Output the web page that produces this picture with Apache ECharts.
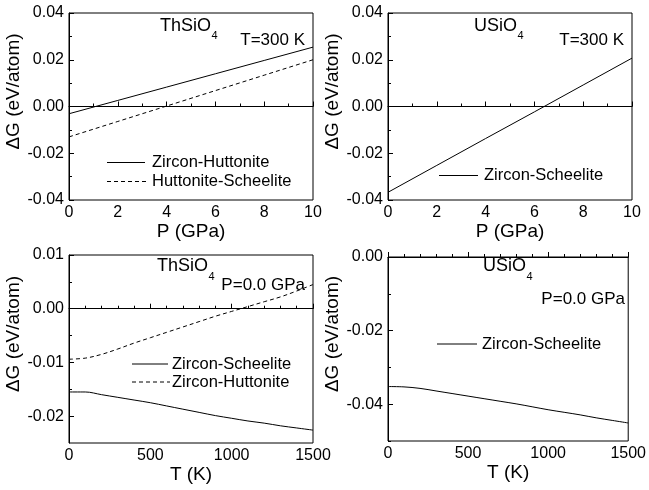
<!DOCTYPE html>
<html>
<head>
<meta charset="utf-8">
<script src="https://cdn.jsdelivr.net/npm/echarts@6/dist/echarts.min.js"></script>
<style>
  html, body { margin: 0; padding: 0; background: #fff; }
  #chart { width: 649px; height: 490px; }
</style>
</head>
<body>
<div id="chart"></div>
<script>
// ---- Pressure dependence at T = 300 K ----
const pressureGPa = [0, 2, 4, 6, 8, 10];
const thZirconHuttoniteVsP = [-0.0031, 0.0026, 0.0083, 0.0140, 0.0197, 0.0254];
const thHuttoniteScheeliteVsP = [-0.0130, -0.0064, 0.0002, 0.0068, 0.0134, 0.0200];
const uZirconScheeliteVsP = [-0.0367, -0.0252, -0.0137, -0.0023, 0.0092, 0.0207];

// ---- Temperature dependence at P = 0.0 GPa ----
const temperatureK = [0, 100, 200, 300, 400, 500, 600, 700, 800, 900, 1000, 1100, 1200, 1300, 1400, 1500];
const thZirconScheeliteVsT = [-0.0155, -0.0155, -0.0160, -0.0165, -0.0170, -0.0175, -0.0181, -0.0187,
                              -0.0193, -0.0199, -0.0204, -0.0209, -0.0213, -0.0218, -0.0222, -0.0226];
const thZirconHuttoniteVsT = [-0.0094, -0.0092, -0.0085, -0.0075, -0.0064, -0.0054, -0.0044, -0.0034,
                              -0.0024, -0.0014, -0.0005, 0.0004, 0.0013, 0.0022, 0.0033, 0.0045];
const uZirconScheeliteVsT = [-0.0352, -0.0353, -0.0357, -0.0364, -0.0371, -0.0378, -0.0385, -0.0392,
                             -0.0399, -0.0407, -0.0415, -0.0422, -0.0429, -0.0437, -0.0444, -0.0451];

// ---- Tick values ----
const pressureTicks = [0, 2, 4, 6, 8, 10];
const pressureMinorTicks = [1, 3, 5, 7, 9];
const temperatureTicks = [0, 500, 1000, 1500];
const temperatureMinorTicks = [100, 200, 300, 400, 600, 700, 800, 900, 1100, 1200, 1300, 1400];
const dgPressureTicks = [-0.04, -0.02, 0, 0.02, 0.04];
const dgPressureMinorTicks = [-0.03, -0.01, 0.01, 0.03];
const dgThTempTicks = [-0.02, -0.01, 0, 0.01];
const dgThTempMinorTicks = [-0.015, -0.005, 0.005];
const dgUTempTicks = [-0.04, -0.02, 0];
const dgUTempMinorTicks = [-0.05, -0.03, -0.01];

const FONT = "'Liberation Sans', Arial, Helvetica, sans-serif";
const INK = '#000';
const DASH = [4, 3];

const zip = (xs, ys) => xs.map((x, i) => [x, ys[i]]);

const panels = [
  {
    grid: { left: 69, top: 13, width: 244, height: 187 },
    x: { min: 0, max: 10, ticks: pressureTicks, minor: pressureMinorTicks, name: 'P (GPa)' },
    y: { min: -0.04, max: 0.04, ticks: dgPressureTicks, minor: dgPressureMinorTicks },
    zeroLine: true,
    curves: [
      { name: 'Zircon-Huttonite', x: pressureGPa, y: thZirconHuttoniteVsP, dashed: false },
      { name: 'Huttonite-Scheelite', x: pressureGPa, y: thHuttoniteScheeliteVsP, dashed: true }
    ]
  },
  {
    grid: { left: 388, top: 13, width: 244, height: 187 },
    x: { min: 0, max: 10, ticks: pressureTicks, minor: pressureMinorTicks, name: 'P (GPa)' },
    y: { min: -0.04, max: 0.04, ticks: dgPressureTicks, minor: dgPressureMinorTicks },
    zeroLine: true,
    curves: [
      { name: 'Zircon-Scheelite', x: pressureGPa, y: uZirconScheeliteVsP, dashed: false }
    ]
  },
  {
    grid: { left: 69, top: 255, width: 244, height: 188 },
    x: { min: 0, max: 1500, ticks: temperatureTicks, minor: temperatureMinorTicks, name: 'T (K)' },
    y: { min: -0.025, max: 0.01, ticks: dgThTempTicks, minor: dgThTempMinorTicks },
    zeroLine: true,
    curves: [
      { name: 'Zircon-Scheelite', x: temperatureK, y: thZirconScheeliteVsT, dashed: false },
      { name: 'Zircon-Huttonite', x: temperatureK, y: thZirconHuttoniteVsT, dashed: true }
    ]
  },
  {
    grid: { left: 388, top: 257, width: 244, height: 184 },
    x: { min: 0, max: 1500, ticks: temperatureTicks, minor: temperatureMinorTicks, name: 'T (K)' },
    y: { min: -0.05, max: 0, ticks: dgUTempTicks, minor: dgUTempMinorTicks },
    zeroLine: false,
    curves: [
      { name: 'Zircon-Scheelite', x: temperatureK, y: uZirconScheeliteVsT, dashed: false }
    ]
  }
];

const grids = [], xAxes = [], yAxes = [], series = [];

panels.forEach((p, gi) => {
  grids.push(Object.assign({
    show: true, borderColor: INK, borderWidth: 1, backgroundColor: 'transparent', containLabel: false
  }, p.grid));

  // main x axis: labelled major ticks
  xAxes.push({
    type: 'value', gridIndex: gi, position: 'bottom', min: p.x.min, max: p.x.max,
    name: p.x.name, nameLocation: 'middle', nameGap: 21,
    nameTextStyle: { fontFamily: FONT, fontSize: 19, color: INK },
    axisLine: { show: true, lineStyle: { color: INK, width: 1 } },
    axisTick: { show: true, inside: true, length: 5, customValues: p.x.ticks, lineStyle: { color: INK } },
    axisLabel: { show: true, customValues: p.x.ticks, margin: 5, fontFamily: FONT, fontSize: 16, color: INK,
                 formatter: v => String(v) },
    splitLine: { show: false }
  });
  // minor x ticks
  xAxes.push({
    type: 'value', gridIndex: gi, position: 'bottom', min: p.x.min, max: p.x.max,
    axisLine: { show: false },
    axisTick: { show: true, inside: true, length: 3, customValues: p.x.minor, lineStyle: { color: INK } },
    axisLabel: { show: false },
    splitLine: { show: false }
  });

  // main y axis
  yAxes.push({
    type: 'value', gridIndex: gi, position: 'left', min: p.y.min, max: p.y.max,
    name: '\u0394G (eV/atom)', nameLocation: 'middle', nameGap: 44, nameRotate: 90,
    nameTextStyle: { fontFamily: FONT, fontSize: 19, color: INK, padding: [0, 0, 0, 30] },
    axisLine: { show: true, lineStyle: { color: INK, width: 1 } },
    axisTick: { show: true, inside: true, length: 5, customValues: p.y.ticks, lineStyle: { color: INK } },
    axisLabel: { show: true, customValues: p.y.ticks, margin: 5, fontFamily: FONT, fontSize: 16, color: INK,
                 formatter: v => (Math.abs(v) < 1e-12 ? 0 : v).toFixed(2) },
    splitLine: { show: false }
  });
  // minor y ticks
  yAxes.push({
    type: 'value', gridIndex: gi, position: 'left', min: p.y.min, max: p.y.max,
    axisLine: { show: false },
    axisTick: { show: true, inside: true, length: 3, customValues: p.y.minor, lineStyle: { color: INK } },
    axisLabel: { show: false },
    splitLine: { show: false }
  });

  p.curves.forEach((c, ci) => {
    const s = {
      type: 'line', name: c.name,
      xAxisIndex: gi * 2, yAxisIndex: gi * 2,
      data: zip(c.x, c.y),
      symbol: 'none', smooth: c.x.length > 6 ? 0.35 : false,
      color: INK,
      lineStyle: { color: INK, width: 1, type: c.dashed ? DASH : 'solid' },
      silent: true, z: 3
    };
    if (ci === 0 && p.zeroLine) {
      s.markLine = {
        silent: true, symbol: 'none', label: { show: false },
        lineStyle: { color: INK, width: 1, type: 'solid' },
        data: [{ yAxis: 0 }]
      };
    }
    series.push(s);
  });
});

// text width helper so chemical subscripts sit right after their formula
const measureCtx = document.createElement('canvas').getContext('2d');
const textWidth = (text, size) => { measureCtx.font = `${size}px ${FONT}`; return measureCtx.measureText(text).width; };

const txt = (x, y, text, size, align) => ({
  type: 'text', silent: true, z: 10,
  style: { x, y, text, fill: INK, font: `${size}px ${FONT}`, textAlign: align || 'left', textVerticalAlign: 'middle' }
});
// formula with a trailing subscript, e.g. ThSiO + 4
const formula = (x, y, base, sub) => [
  txt(x, y, base, 18),
  txt(x + textWidth(base, 18) + 0.5, y + 10, sub, 11)
];
const keyLine = (x1, x2, y, dashed) => ({
  type: 'line', silent: true, z: 10,
  shape: { x1, y1: y, x2, y2: y },
  style: { stroke: INK, lineWidth: 1, lineDash: dashed ? DASH : null }
});

const KEY = 16.5;
const graphics = [
  // top-left: ThSiO4, T = 300 K
  ...formula(160, 26, 'ThSiO', '4'),
  txt(305, 40, 'T=300 K', 17, 'right'),
  keyLine(107, 145, 162.5, false), txt(152, 162.5, 'Zircon-Huttonite', KEY),
  keyLine(107, 147, 181.5, true), txt(152, 181.5, 'Huttonite-Scheelite', KEY),

  // top-right: USiO4, T = 300 K
  ...formula(474, 26, 'USiO', '4'),
  txt(624, 40, 'T=300 K', 17, 'right'),
  keyLine(439, 478, 175.5, false), txt(484, 175.5, 'Zircon-Scheelite', KEY),

  // bottom-left: ThSiO4, P = 0.0 GPa
  ...formula(157, 266.5, 'ThSiO', '4'),
  txt(305, 285.5, 'P=0.0 GPa', 17, 'right'),
  keyLine(132, 168, 364, false), txt(172, 364, 'Zircon-Scheelite', KEY),
  keyLine(132, 170, 382, true), txt(172, 382, 'Zircon-Huttonite', KEY),

  // bottom-right: USiO4, P = 0.0 GPa
  ...formula(483, 266.5, 'USiO', '4'),
  txt(625, 299, 'P=0.0 GPa', 17, 'right'),
  keyLine(437, 477, 344, false), txt(482, 344, 'Zircon-Scheelite', KEY)
];

const chart = echarts.init(document.getElementById('chart'), null, { renderer: 'canvas' });
chart.setOption({
  animation: false,
  backgroundColor: '#fff',
  textStyle: { fontFamily: FONT },
  grid: grids,
  xAxis: xAxes,
  yAxis: yAxes,
  series: series,
  graphic: graphics
});
</script>
</body>
</html>
